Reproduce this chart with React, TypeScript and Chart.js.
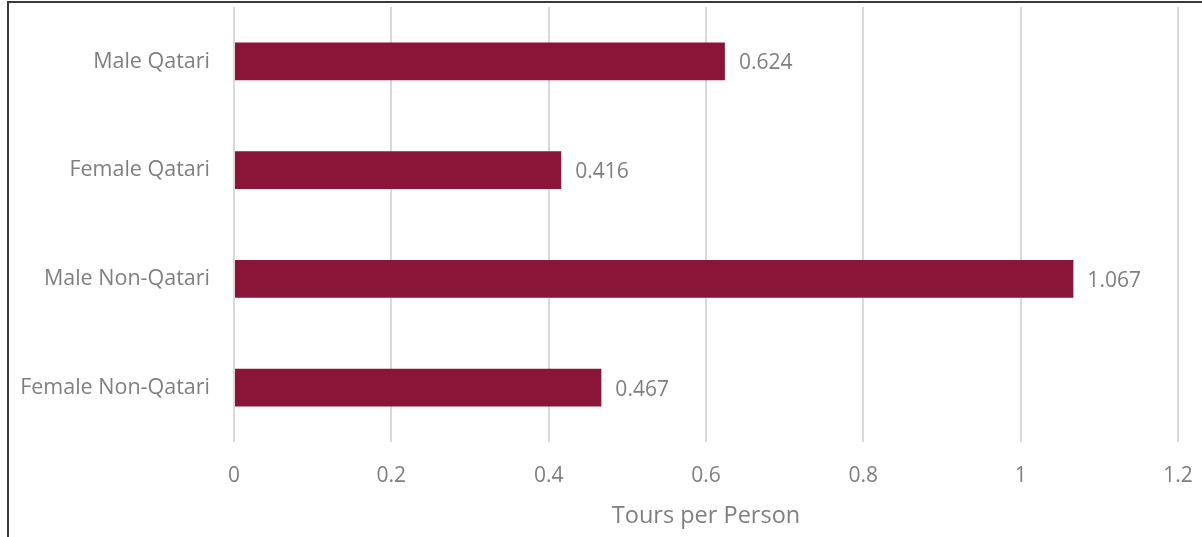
import React, { useEffect, useRef } from "react";
import { Chart, registerables } from "chart.js";

Chart.register(...registerables);

const categories = ["Male Qatari", "Female Qatari", "Male Non-Qatari", "Female Non-Qatari"];
const toursPerPerson = [0.624, 0.416, 1.067, 0.467];
const valueLabels = ["0.624", "0.416", "1.067", "0.467"];
const xTicks = [0, 0.2, 0.4, 0.6, 0.8, 1, 1.2];
const xTitle = "Tours per Person";

const FONT = "'Open Sans', 'Noto Sans', sans-serif";
const TEXT = "#7f7f7f";
const BAR = "#8a1538";

const labelPlugin = {
  id: "barValueLabels",
  afterDatasetsDraw(chart: any) {
    const ctx = chart.ctx;
    const meta = chart.getDatasetMeta(0);
    ctx.save();
    ctx.font = `21px ${FONT}`;
    ctx.fillStyle = TEXT;
    ctx.textAlign = "left";
    ctx.textBaseline = "middle";
    meta.data.forEach((el: any, i: number) => {
      ctx.fillText(valueLabels[i], el.x + 14, el.y + 2);
    });
    ctx.restore();
  },
};

const zeroPad = (scale: any) => {
  scale.paddingTop = 0;
  scale.paddingBottom = 0;
  scale.paddingLeft = 0;
  scale.paddingRight = 0;
};

export default function App() {
  const ref = useRef<HTMLCanvasElement | null>(null);
  useEffect(() => {
    if (!ref.current) return;
    const chart = new Chart(ref.current, {
      type: "bar",
      data: {
        labels: categories,
        datasets: [
          {
            data: toursPerPerson,
            backgroundColor: BAR,
            borderWidth: 0,
            barPercentage: 0.345,
            categoryPercentage: 1,
          },
        ],
      },
      options: {
        indexAxis: "y",
        animation: false,
        responsive: false,
        maintainAspectRatio: false,
        layout: { padding: { top: 7, right: 24, left: 0, bottom: 0 } },
        plugins: {
          legend: { display: false },
          tooltip: { enabled: false },
        },
        scales: {
          x: {
            min: 0,
            max: 1.2,
            afterBuildTicks(scale: any) {
              scale.ticks = xTicks.map((v) => ({ value: v }));
            },
            afterFit(scale: any) {
              scale.height = 95;
              zeroPad(scale);
            },
            grid: { color: "#d9d9d9", lineWidth: 2, drawTicks: false },
            border: { display: false },
            ticks: {
              color: TEXT,
              font: { family: FONT, size: 21 },
              padding: 21,
              maxRotation: 0,
              callback: (v: any) => String(Number(v)),
            },
            title: {
              display: true,
              text: xTitle,
              color: TEXT,
              font: { family: FONT, size: 23.5 },
              padding: { top: 0, bottom: 7 },
            },
          },
          y: {
            afterFit(scale: any) {
              scale.width = 234;
              zeroPad(scale);
            },
            grid: { display: false, drawTicks: false },
            border: { display: false },
            ticks: {
              color: TEXT,
              font: { family: FONT, size: 21.5 },
              padding: 24,
            },
          },
        },
      },
      plugins: [labelPlugin],
    });
    return () => chart.destroy();
  }, []);

  return (
    <div
      style={{
        position: "fixed",
        left: 0,
        top: 0,
        width: 1202,
        height: 537,
        background: "#fff",
        overflow: "hidden",
      }}
    >
      <div
        style={{
          position: "absolute",
          left: 7,
          top: 1,
          width: 1300,
          height: 700,
          borderLeft: "2px solid #3a3a3a",
          borderTop: "2px solid #3a3a3a",
        }}
      />
      <canvas
        ref={ref}
        width={1202}
        height={537}
        style={{ position: "absolute", left: 0, top: 0, width: 1202, height: 537 }}
      />
    </div>
  );
}
